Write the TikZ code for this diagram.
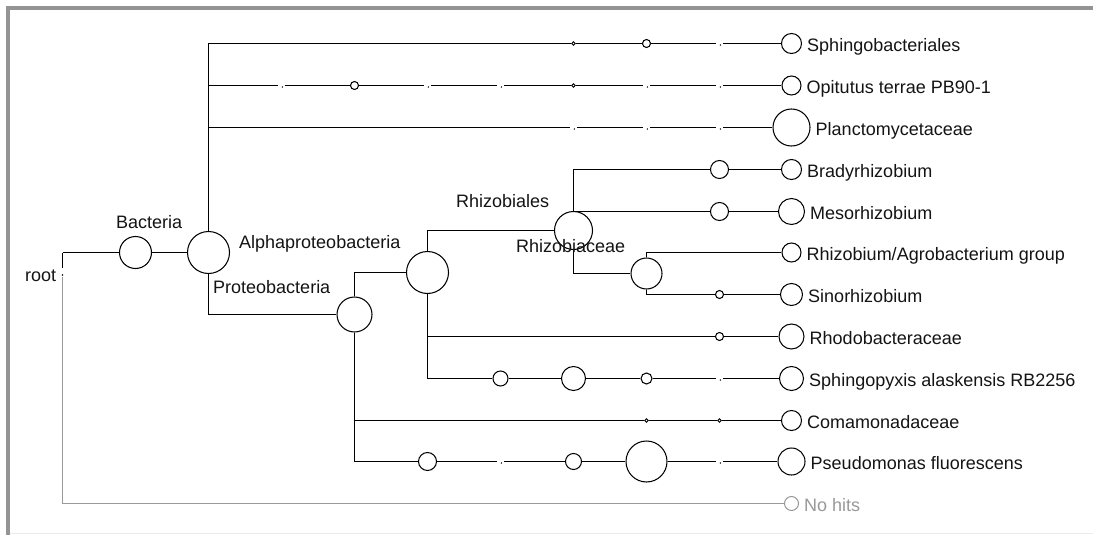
\documentclass[tikz,border=0pt]{standalone}
\usepackage{fontspec}
\setmainfont{Liberation Sans}
\begin{document}
\begin{tikzpicture}[x=1pt,y=-1pt,
  edge/.style={draw=black, line width=1.1pt},
  grayedge/.style={draw=black!40, line width=1.1pt},
  nd/.style={circle, draw=black, line width=1.05pt, inner sep=0pt, fill=white},
  dotnd/.style={circle, draw=black, line width=0.8pt, inner sep=0pt, minimum size=3.5},
  gapnd/.style={circle, inner sep=0pt, minimum size=6.5,
    path picture={\fill[black] ([shift={(0.8,1.5)}]path picture bounding box.center) circle (0.8);}},
  lbl/.style={inner sep=0pt, font=\fontsize{18}{20}\selectfont, text=black!92},
  leaflbl/.style={lbl, anchor=base west},
]
\useasboundingbox (0,0) rectangle (1093,535);
\fill[white] (0,0) rectangle (1093,535);
% window frame
\fill[black!42] (6,6) rectangle (1093,10);
\fill[black!42] (6,6) rectangle (10,535);
\draw[black!8, line width=0.8pt] (10,533.5) -- (1093,533.5);

% inner tree nodes
\coordinate (root) at (62.5,252.5);
\coordinate (rootstub) at (62.5,268);
\coordinate (rootgap) at (62.5,277);
\node[nd, minimum size=32] (bac) at (135.5,252.5) {};
\node[nd, minimum size=42] (cell) at (208.5,252.5) {};
\node[nd, minimum size=35] (prot) at (354.5,314.5) {};
\node[nd, minimum size=42] (alpha) at (427.5,272.5) {};
\node[nd, minimum size=38] (rhizl) at (573.5,230.5) {};
\node[nd, minimum size=31] (rhizc) at (646.5,273.5) {};

% row 1
\node[dotnd] (a7) at (573.5,43.5) {};
\node[nd, minimum size=8] (a8) at (646.5,43.5) {};
\node[gapnd] (a9) at (719.5,43.5) {};
\node[nd, minimum size=20] (a10) at (791.5,43.5) {};
% row 2
\node[gapnd] (b3) at (281.5,85.5) {};
\node[nd, minimum size=8] (b4) at (354.5,85.5) {};
\node[gapnd] (b5) at (427.5,85.5) {};
\node[gapnd] (b6) at (500.5,85.5) {};
\node[dotnd] (b7) at (573.5,85.5) {};
\node[gapnd] (b8) at (646.5,85.5) {};
\node[gapnd] (b9) at (719.5,85.5) {};
\node[nd, minimum size=19] (b10) at (791.5,85.5) {};
% row 3
\node[gapnd] (c7) at (573.5,127.5) {};
\node[gapnd] (c8) at (646.5,127.5) {};
\node[gapnd] (c9) at (719.5,127.5) {};
\node[nd, minimum size=37] (c10) at (791.5,127.5) {};
% row 4
\node[nd, minimum size=18] (d9) at (719.5,169.5) {};
\node[nd, minimum size=20] (d10) at (791.5,169.5) {};
% row 5
\node[nd, minimum size=18] (e9) at (719.5,211.5) {};
\node[nd, minimum size=26] (e10) at (791.5,211.5) {};
% row 6
\node[nd, minimum size=19] (f10) at (791.5,252.5) {};
% row 7
\node[nd, minimum size=8] (g9) at (719.5,294.5) {};
\node[nd, minimum size=22] (g10) at (791.5,294.5) {};
% row 8
\node[nd, minimum size=8] (h9) at (719.5,336.5) {};
\node[nd, minimum size=25] (h10) at (791.5,336.5) {};
% row 9
\node[nd, minimum size=15] (i6) at (500.5,378.5) {};
\node[nd, minimum size=24] (i7) at (573.5,378.5) {};
\node[nd, minimum size=11] (i8) at (646.5,378.5) {};
\node[gapnd] (i9) at (719.5,378.5) {};
\node[nd, minimum size=24] (i10) at (791.5,378.5) {};
% row 10
\node[dotnd] (j8) at (646.5,420.5) {};
\node[dotnd] (j9) at (719.5,420.5) {};
\node[nd, minimum size=20] (j10) at (791.5,420.5) {};
% row 11
\node[nd, minimum size=18] (k5) at (427.5,461.5) {};
\node[gapnd] (k6) at (500.5,461.5) {};
\node[nd, minimum size=16] (k7) at (573.5,461.5) {};
\node[nd, minimum size=41] (k8) at (646.5,461.5) {};
\node[gapnd] (k9) at (719.5,461.5) {};
\node[nd, minimum size=27] (k10) at (791.5,461.5) {};
% row 12
\node[nd, draw=black!40, minimum size=14] (l10) at (791.5,503.5) {};

% connectors
\draw[edge] (root) -- (bac);
\draw[edge] (bac) -- (cell);
\draw[edge] (root) -- (rootstub);
\fill[black] (62.5,275) circle (0.8);
\draw[grayedge] (rootgap) |- (l10);

\draw[edge] (cell) |- (a7);
\draw[edge] (cell) |- (b3);
\draw[edge] (cell) |- (c7);
\draw[edge] (cell) |- (prot);
\draw[edge] (prot) |- (alpha);
\draw[edge] (prot) |- (j8);
\draw[edge] (prot) |- (k5);
\draw[edge] (alpha) |- (rhizl);
\draw[edge] (alpha) |- (h9);
\draw[edge] (alpha) |- (i6);
\draw[edge] (rhizl) |- (d9);
\draw[edge] (rhizl) |- (e9);
\draw[edge] (rhizl) |- (rhizc);
\draw[edge] (rhizc) |- (f10);
\draw[edge] (rhizc) |- (g9);
\foreach \u/\v in {a7/a8,a8/a9,a9/a10,
                   b3/b4,b4/b5,b5/b6,b6/b7,b7/b8,b8/b9,b9/b10,
                   c7/c8,c8/c9,c9/c10,
                   d9/d10,e9/e10,g9/g10,h9/h10,
                   i6/i7,i7/i8,i8/i9,i9/i10,
                   j8/j9,j9/j10,
                   k5/k6,k6/k7,k7/k8,k8/k9,k9/k10}
  \draw[edge] (\u) -- (\v);

% inner labels
\node[leaflbl] (troot) at (25,281) {root};
\node[leaflbl] (tbac) at (116,228) {Bacteria};
\node[leaflbl] (talpha) at (239,248) {Alphaproteobacteria};
\node[leaflbl] (tprot) at (213,293) {Proteobacteria};
\node[leaflbl] (trhizl) at (456,207) {Rhizobiales};
\node[leaflbl] (trhizc) at (516,252) {Rhizobiaceae};

% leaf labels
\node[leaflbl] (ta) at ([shift={(5,8)}]a10.east) {Sphingobacteriales};
\node[leaflbl] (tb) at ([shift={(5,8)}]b10.east) {Opitutus terrae PB90-1};
\node[leaflbl] (tc) at ([shift={(5,8)}]c10.east) {Planctomycetaceae};
\node[leaflbl] (td) at ([shift={(5,8)}]d10.east) {Bradyrhizobium};
\node[leaflbl] (te) at ([shift={(5,8)}]e10.east) {Mesorhizobium};
\node[leaflbl] (tf) at ([shift={(5,8)}]f10.east) {Rhizobium/Agrobacterium group};
\node[leaflbl] (tg) at ([shift={(5,8)}]g10.east) {Sinorhizobium};
\node[leaflbl] (th) at ([shift={(5,8)}]h10.east) {Rhodobacteraceae};
\node[leaflbl] (ti) at ([shift={(5,8)}]i10.east) {Sphingopyxis alaskensis RB2256};
\node[leaflbl] (tj) at ([shift={(5,8)}]j10.east) {Comamonadaceae};
\node[leaflbl] (tk) at ([shift={(5,8)}]k10.east) {Pseudomonas fluorescens};
\node[leaflbl, text=black!40] (tl) at ([shift={(5,8)}]l10.east) {No hits};
\end{tikzpicture}
\end{document}
